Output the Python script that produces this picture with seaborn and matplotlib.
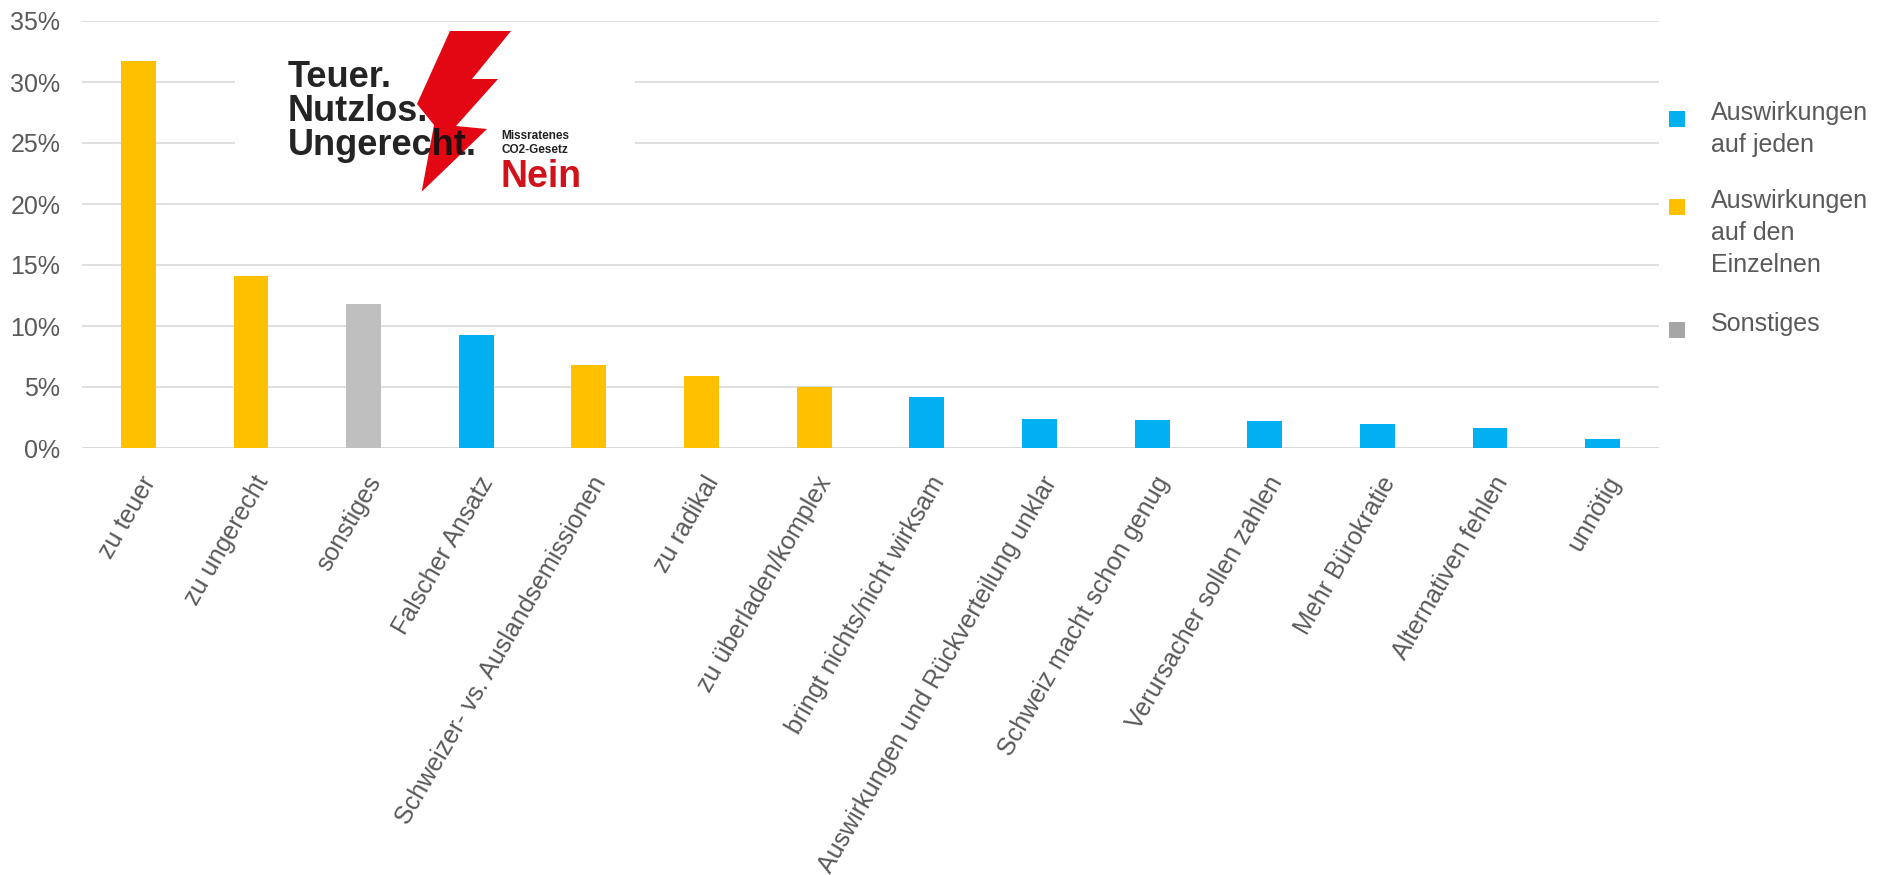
import matplotlib
matplotlib.use("Agg")
import matplotlib.pyplot as plt
import matplotlib.transforms as mtransforms
from matplotlib.patches import Polygon, Rectangle
import seaborn as sns
import pandas as pd

# Reasons given for rejecting the CO2 law (share of mentions, %)
categories = [
    "zu teuer", "zu ungerecht", "sonstiges", "Falscher Ansatz",
    "Schweizer- vs. Auslandsemissionen", "zu radikal", "zu überladen/komplex",
    "bringt nichts/nicht wirksam", "Auswirkungen und Rückverteilung unklar",
    "Schweiz macht schon genug", "Verursacher sollen zahlen", "Mehr Bürokratie",
    "Alternativen fehlen", "unnötig",
]
values = [31.7, 14.1, 11.8, 9.3, 6.8, 5.9, 5.0, 4.2, 2.4, 2.3, 2.2, 2.0, 1.6, 0.7]
groups = ["einzeln", "einzeln", "sonst", "jeden", "einzeln", "einzeln", "einzeln",
          "jeden", "jeden", "jeden", "jeden", "jeden", "jeden", "jeden"]

group_keys = ["jeden", "einzeln", "sonst"]
group_labels = [["Auswirkungen", "auf jeden"],
                ["Auswirkungen", "auf den", "Einzelnen"],
                ["Sonstiges"]]
bar_colors = {"jeden": "#00B0F0", "einzeln": "#FFC000", "sonst": "#BFBFBF"}
legend_colors = {"jeden": "#00B0F0", "einzeln": "#FFC000", "sonst": "#A6A6A6"}

yticks = [0, 5, 10, 15, 20, 25, 30, 35]

df = pd.DataFrame({"category": categories, "value": values, "group": groups})

sns.set_theme(style="white")
plt.rcParams["font.family"] = ["Liberation Sans", "DejaVu Sans"]

W, H = 1892, 875
fig = plt.figure(figsize=(W / 100, H / 100), dpi=100)
fig.patch.set_facecolor("white")

def fx(px):
    return px / W

def fy(px):
    return 1 - px / H

ax_left, ax_right, ax_top, ax_bottom = 82, 1659, 21, 448
ax = fig.add_axes([fx(ax_left), fy(ax_bottom), (ax_right - ax_left) / W, (ax_bottom - ax_top) / H])

sns.barplot(data=df, x="category", y="value", hue="group", order=categories,
            hue_order=group_keys, palette=bar_colors, dodge=False, width=0.31,
            saturation=1, legend=False, linewidth=0, ax=ax)

text_color = "#595959"
grid_color = "#D9D9D9"

ax.set_xlim(-0.5, len(categories) - 0.5)
ax.set_ylim(0, 35)
ax.set_yticks(yticks)
ax.set_yticklabels([f"{v}%" for v in yticks])
ax.set_xlabel("")
ax.set_ylabel("")
for s in ax.spines.values():
    s.set_visible(False)
ax.yaxis.grid(True, color=grid_color, linewidth=1.2)
ax.xaxis.grid(False)
ax.set_axisbelow(True)
ax.axhline(0, color=grid_color, linewidth=1.8, zorder=0.5)
ax.tick_params(axis="y", length=0, pad=15.5, labelsize=18, labelcolor=text_color)
ax.tick_params(axis="x", length=0, pad=0, labelsize=18, labelcolor=text_color)

ax.set_xticks(range(len(categories)))
ax.set_xticklabels(categories, rotation=60, ha="right", va="center", rotation_mode="anchor")
offset = mtransforms.ScaledTranslation(12 / 100, -30 / 100, fig.dpi_scale_trans)
for lab in ax.get_xticklabels():
    lab.set_transform(lab.get_transform() + offset)

# Legend: square markers with wrapped labels, one text per line
legend_baselines = [120, 208, 331]
legend_line_gap = 32
for key, lines, yb in zip(group_keys, group_labels, legend_baselines):
    fig.add_artist(Rectangle((fx(1669), fy(yb + 7)), 16 / W, 16 / H,
                             transform=fig.transFigure, facecolor=legend_colors[key],
                             edgecolor="none"))
    for i, line in enumerate(lines):
        fig.text(fx(1711), fy(yb + i * legend_line_gap), line, fontsize=18,
                 color=text_color, ha="left", va="baseline")

# Campaign logo on a white panel
lx0, lx1, ly0, ly1 = 235, 635, 28, 199
lax = fig.add_axes([fx(lx0), fy(ly1), (lx1 - lx0) / W, (ly1 - ly0) / H], zorder=3)
lax.set_xlim(lx0, lx1)
lax.set_ylim(ly1, ly0)
lax.set_facecolor("white")
lax.axis("off")
lax.add_patch(Rectangle((lx0, ly0), lx1 - lx0, ly1 - ly0, facecolor="white", edgecolor="none"))

bolt = [(450, 31), (511, 31), (472, 79), (498, 79), (456, 126),
        (487, 129), (421.7, 191.7), (434, 125), (417, 104)]
lax.add_patch(Polygon(bolt, closed=True, facecolor="#E30613", edgecolor="none", zorder=1))

lax.text(288, 60, "Teuer.\nNutzlos.\nUngerecht.", fontsize=26, fontweight="bold",
         color="#111111", ha="left", va="top", linespacing=0.97, zorder=2, alpha=0.92)
lax.text(501, 130, "Missratenes\nCO2-Gesetz", fontsize=8.5, fontweight="bold",
         color="#222222", ha="left", va="top", linespacing=1.2, zorder=2)
lax.text(500, 187, "Nein", fontsize=27, fontweight="bold", color="#D0121B",
         ha="left", va="baseline", zorder=2)

fig.savefig("out.png", dpi=100, facecolor="white")
